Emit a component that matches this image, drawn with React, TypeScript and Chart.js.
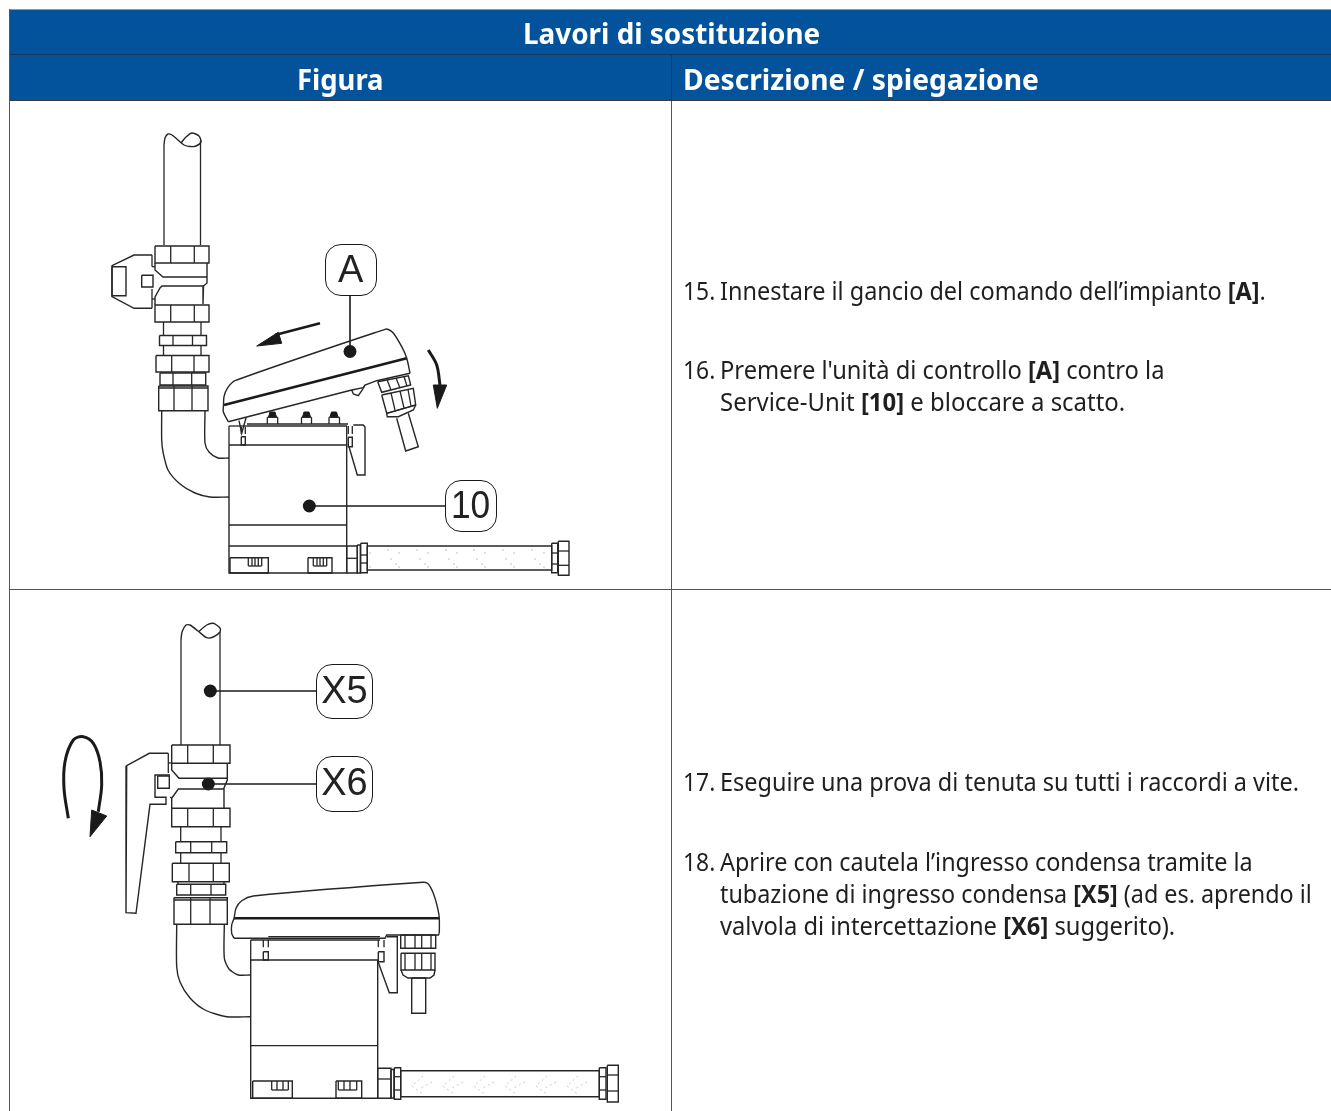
import React, { useEffect, useLayoutEffect, useRef } from "react";
import { Chart, registerables } from "chart.js";
Chart.register(...registerables);

type P = [number, number];
type R = [number, number, number, number];

// ---------- Figure 1 drawing data (values on a 0..1331 / 0..1111 plane) ----------
const f1Rects: R[] = [
  [155, 246, 209, 263], [155, 305, 209, 322], [159.5, 335.5, 206.5, 345.5], [156, 355.5, 209, 372],
  [160, 373, 205.7, 385], [158.7, 386, 208, 410.7], [112, 266.7, 126, 295.7], [141.7, 275.3, 153, 287],
  [229, 445, 346.7, 573], [230, 557.7, 268.3, 573], [308, 557.7, 332, 573], [241.3, 436.7, 245.3, 445],
  [348.3, 437.3, 352.3, 446.7], [346.7, 546, 357.3, 573], [357.3, 545, 360.3, 573], [360.7, 543.3, 367.3, 572.7],
  [367.3, 546, 551.7, 570], [551.7, 543.3, 557.7, 572.7], [558.3, 541.3, 569, 575.3],
];
const f1Segs: R[] = [
  [170.7, 246, 170.7, 263], [194.3, 246, 194.3, 263], [170.7, 305, 170.7, 322], [194.3, 305, 194.3, 322],
  [163.5, 322, 163.5, 335.5], [201, 322, 201, 335.5], [173, 335.5, 173, 345.5], [192.5, 335.5, 192.5, 345.5],
  [163.5, 345.5, 163.5, 355.5], [201, 345.5, 201, 355.5], [171.7, 355.5, 171.7, 372], [194, 355.5, 194, 372],
  [173, 373, 173, 385], [191.7, 373, 191.7, 385], [174, 386, 174, 410.7], [192, 386, 192, 410.7],
  [158.7, 388, 208, 388], [164, 245, 164, 145], [200.5, 245, 200.5, 140],
  [152, 255, 152, 266.7], [152, 289, 152, 308.3], [152, 266.7, 155, 266.7], [152, 299, 155, 299],
  [229, 426, 229, 445], [229, 426, 247, 426], [247, 424, 348, 424], [247, 426, 347, 426], [346.7, 426, 346.7, 445],
  [229, 525, 346.7, 525], [229, 546, 346.7, 546], [241.3, 426.7, 241.3, 434], [245.3, 426.7, 245.3, 434],
  [348.3, 426, 348.3, 434], [352.3, 426, 352.3, 434], [346.7, 558.3, 357.3, 558.3],
  [248.3, 557.7, 248.3, 566], [261.7, 557.7, 261.7, 566], [248.3, 566, 261.7, 566], [252, 557.7, 252, 566], [255, 557.7, 255, 566], [258.3, 557.7, 258.3, 566],
  [313.3, 557.7, 313.3, 566], [326.7, 557.7, 326.7, 566], [313.3, 566, 326.7, 566], [317, 557.7, 317, 566], [320, 557.7, 320, 566], [323.3, 557.7, 323.3, 566],
  [360.7, 555, 367.3, 555], [360.7, 563, 367.3, 563], [551.7, 553, 557.7, 553], [551.7, 564, 557.7, 564],
  [558.3, 551, 569, 551], [558.3, 565.3, 569, 565.3],
  [267.3, 417.3, 267.3, 424], [277.7, 417.3, 277.7, 424], [267.3, 417.3, 277.7, 417.3],
  [301.5, 417.3, 301.5, 424], [311.5, 417.3, 311.5, 424], [301.5, 417.3, 311.5, 417.3],
  [329, 417.3, 329, 424], [339.5, 417.3, 339.5, 424], [329, 417.3, 339.5, 417.3],
  [387, 379.5, 391, 390], [396, 378, 400, 388], [404, 376.5, 407, 386],
  [391, 393, 395, 410], [400, 391, 404, 408], [408, 389.5, 411, 406], [386.7, 413.3, 415.7, 405],
];
const f1Paths: P[][] = [
  [[207, 263], [207, 283], [203.5, 286], [203, 304]],
  [[155, 263], [155, 270], [163, 277], [207, 277]],
  [[155, 305], [155, 297], [160, 288], [162, 286], [204, 286]],
  [[152, 255], [134, 255], [112, 265.7], [112, 296.7], [134, 308.3], [152, 308.3]],
  [[228.3, 421.7], [351.7, 390], [363.3, 387.7], [365, 385], [376.7, 380.7], [410, 373.3]],
  [[351.7, 390], [353.3, 394], [358.3, 395.7], [362.3, 390], [365, 385]],
  [[239, 420.7], [241.7, 433.3], [246, 418]],
  [[353.3, 425], [363.3, 425], [365, 427], [365, 475], [357.3, 475], [349, 446.7]],
  [[377.7, 381.7], [408.3, 375.7], [410.7, 385], [381.7, 392.3], [377.7, 381.7]],
  [[381.7, 395], [413.3, 388.3], [415.7, 405], [386.7, 413.3], [381.7, 395]],
  [[386.7, 413.3], [387.3, 416.7], [398.3, 416.7], [413.3, 410], [415.7, 405]],
  [[396.7, 418.3], [405.7, 451], [418.3, 446.7], [408.3, 413.3]],
];
const f1Curves: P[][] = [
  [[164, 145], [165, 138], [168, 134], [172, 135], [178, 140], [184, 145], [190, 146.5], [196, 146], [201, 142], [199, 136], [192, 133], [186, 137], [181, 143]],
  [[161.7, 411], [161.7, 440], [163, 452], [168, 470], [180, 484], [195, 493], [210, 497], [229, 497]],
  [[205, 411], [205, 443], [209, 452], [218, 458], [229, 458]],
  [[228.3, 421.7], [223.3, 411.7], [223.5, 405], [224, 396.7], [227.3, 388.3], [235, 380.7], [385, 329.3], [388.3, 329.5], [393.3, 333], [401.7, 346.7], [406.7, 358], [410, 373.3]],
];
const f1Heavy: R[] = [[224, 405, 406.7, 358.3], [320, 323.3, 275, 335]];
const f1HeavyCurves: P[][] = [[[428.3, 350], [436.7, 365], [440, 385]]];
const f1Fills: P[][] = [
  [[256.7, 346], [278.3, 332.3], [281.7, 343.3], [256.7, 346]],
  [[433.3, 385], [446.7, 385], [437.3, 408.3], [433.3, 385]],
  [[268.5, 417], [270, 412], [275, 412], [276.5, 417], [268.5, 417]],
  [[302.5, 417], [304, 412], [309, 412], [310.5, 417], [302.5, 417]],
  [[330, 417], [331.5, 412], [336.5, 412], [338, 417], [330, 417]],
];
const f1Leaders: R[] = [[350, 296, 350, 351], [309.3, 506, 445, 506]];
const f1Dots: P[] = [[350, 351.5], [309.3, 506]];
const f1Specks: P[] = [
  [388, 550], [399, 553], [417, 550], [428, 553], [446, 550], [457, 553], [474, 550], [485, 553], [503, 550], [514, 553], [532, 550], [544, 553],
  [370, 553], [391, 559], [396, 564], [420, 559], [425, 564], [449, 559], [454, 564], [477, 559], [482, 564], [506, 559], [511, 564], [535, 559], [540, 564],
  [370, 567], [399, 567], [428, 567], [457, 567], [485, 567], [514, 567], [544, 567],
];

// ---------- Figure 2 drawing data ----------
const f2Rects: R[] = [
  [171.7, 745, 230, 763.3], [171.7, 808.3, 230, 826.7], [175.7, 841.7, 226.7, 852.7], [172.3, 863.3, 229.3, 881.7],
  [176.7, 884.3, 225.7, 895], [174, 897.7, 227.3, 924.3], [157.7, 776, 169.3, 788.3],
  [250.7, 960, 377.7, 1098.3], [252.7, 1081, 292.3, 1098.3], [336, 1081, 361.7, 1098.3],
  [263.3, 951.7, 268.3, 960], [378.3, 951.7, 384, 961.7], [377.7, 1068.3, 391, 1098.3], [391, 1069.5, 394, 1098],
  [394.3, 1067.7, 400.7, 1099.3], [400.7, 1070.7, 599.3, 1096.7], [599.3, 1067.7, 606, 1099.3], [607.3, 1065.3, 618.3, 1102],
  [400.7, 935, 435.7, 948.3], [401, 953.3, 435, 970], [411.7, 978, 425.7, 1013.3],
];
const f2Segs: R[] = [
  [181, 745, 181, 640], [220, 745, 220, 632], [187.7, 745, 187.7, 763.3], [213.3, 745, 213.3, 763.3],
  [187.7, 808.3, 187.7, 826.7], [213.3, 808.3, 213.3, 826.7], [180.7, 826.7, 180.7, 841.7], [221, 826.7, 221, 841.7],
  [190.7, 841.7, 190.7, 852.7], [211.7, 841.7, 211.7, 852.7], [180.7, 852.7, 180.7, 863.3], [221, 852.7, 221, 863.3],
  [189, 863.3, 189, 881.7], [213.3, 863.3, 213.3, 881.7], [178, 881.7, 178, 884.3], [224, 881.7, 224, 884.3],
  [190.7, 884.3, 190.7, 895], [211, 884.3, 211, 895], [190.7, 897.7, 190.7, 924.3], [210, 897.7, 210, 924.3],
  [174, 900, 227.3, 900], [168.3, 753.3, 168.3, 773], [168.3, 763, 171.7, 763], [170, 797.3, 171.7, 797.3],
  [250.7, 940, 250.7, 960], [268.3, 936.7, 380, 936.7], [250.7, 940, 380, 940], [263.3, 940, 263.3, 947.3], [268.3, 940, 268.3, 947.3],
  [378.3, 940, 378.3, 947.3], [384, 940, 384, 947.3], [250.7, 1045.7, 377.7, 1045.7], [377.7, 1079, 391, 1079],
  [271.7, 1081, 271.7, 1090], [288.3, 1081, 288.3, 1090], [271.7, 1090, 288.3, 1090], [277, 1081, 277, 1090], [283, 1081, 283, 1090],
  [338.3, 1081, 338.3, 1090], [356.7, 1081, 356.7, 1090], [338.3, 1090, 356.7, 1090], [344, 1081, 344, 1090], [350, 1081, 350, 1090],
  [394.3, 1076.7, 400.7, 1076.7], [394.3, 1090, 400.7, 1090], [599.3, 1076.7, 606, 1076.7], [599.3, 1090, 606, 1090],
  [607.3, 1075, 618.3, 1075], [607.3, 1091, 618.3, 1091],
  [405, 935, 405, 948.3], [415, 935, 415, 948.3], [421.7, 935, 421.7, 948.3], [431, 935, 431, 948.3],
  [405, 953.3, 405, 970], [415, 953.3, 415, 970], [421.7, 953.3, 421.7, 970], [431, 953.3, 431, 970],
];
const f2Paths: P[][] = [
  [[227.3, 763.3], [227.3, 780], [224, 788], [224, 808.3]],
  [[171.7, 763.3], [171.7, 770], [179, 778.3], [227.3, 778.3]],
  [[224, 789], [178.3, 789], [171.7, 798.3], [171.7, 808.3]],
  [[168.3, 753.3], [149.3, 753.3], [126.7, 765.7], [126, 912.7], [136, 913.3], [150, 804.3], [166, 804.3], [166, 797.3], [155, 797.3], [155, 775], [170, 775]],
  [[234, 938.3], [385, 938.3], [386.7, 935], [438.3, 935], [439.3, 933.3]],
  [[386.7, 936.7], [397.3, 936.7], [397.3, 992.7], [389.3, 992.7], [377.7, 960.7]],
  [[401, 970], [403, 975], [408, 978], [430, 978], [434, 975], [435, 970]],
];
const f2Curves: P[][] = [
  [[181, 640], [182, 632], [186, 625], [190, 625], [198, 631], [206.7, 637.7], [213.3, 637], [220, 632], [220, 628], [213.3, 623.3], [206.7, 625], [198.3, 632]],
  [[176.7, 925], [176.7, 966.7], [180, 982], [190, 998], [205, 1010], [226.7, 1016.7], [250, 1016.7]],
  [[224.3, 925], [224.3, 958], [229, 969], [238.3, 975], [250, 975]],
  [[234, 938.3], [231.7, 933.3], [231.7, 925], [234, 918.3], [236, 908.3], [241.7, 900.7], [253.3, 896], [423.3, 882.3], [428.3, 884], [433.3, 893.3], [437.7, 908.3], [439.3, 918.3], [439.3, 933.3]],
];
const f2Heavy: R[] = [[234, 918.3, 439.3, 918.3]];
const f2HeavyCurves: P[][] = [
  [[68.3, 818.3], [64, 788.3], [65, 761.7], [73.3, 740], [83.3, 736.7], [93.3, 743.3], [100, 761.7], [101.7, 785], [98.3, 811.7]],
];
const f2Fills: P[][] = [[[90, 836.7], [91.7, 810], [106.7, 816], [90, 836.7]]];
const f2Leaders: R[] = [[210.3, 691, 316.7, 691], [208.3, 784, 316.7, 784]];
const f2Dots: P[] = [[210.3, 691], [208.3, 784]];
const f2Chevrons: P[][] = [
  [[423, 1076], [412, 1086], [424, 1095]], [[432, 1082], [421, 1088]],
  [[454, 1076], [443, 1086], [455, 1095]], [[463, 1082], [452, 1088]],
  [[485, 1076], [474, 1086], [486, 1095]], [[494, 1082], [483, 1088]],
  [[516, 1076], [505, 1086], [517, 1095]], [[525, 1082], [514, 1088]],
  [[547, 1076], [536, 1086], [548, 1095]], [[556, 1082], [545, 1088]],
  [[578, 1076], [567, 1086], [579, 1095]], [[587, 1082], [576, 1088]],
];

// ---------- Text ----------
const tableTitle = "Lavori di sostituzione";
const columnHeads = ["Figura", "Descrizione / spiegazione"];
const stepNumbers = ["15.", "16.", "17.", "18."];
type Piece = [string, boolean];
const step15: Piece[] = [["Innestare il gancio del comando dell’impianto ", false], ["[A]", true], [".", false]];
const step16a: Piece[] = [["Premere l'unità di controllo ", false], ["[A]", true], [" contro la", false]];
const step16b: Piece[] = [["Service-Unit ", false], ["[10]", true], [" e bloccare a scatto.", false]];
const step17: Piece[] = [["Eseguire una prova di tenuta su tutti i raccordi a vite.", false]];
const step18a: Piece[] = [["Aprire con cautela l’ingresso condensa tramite la", false]];
const step18b: Piece[] = [["tubazione di ingresso condensa ", false], ["[X5]", true], [" (ad es. aprendo il", false]];
const step18c: Piece[] = [["valvola di intercettazione ", false], ["[X6]", true], [" suggerito).", false]];
const calloutLabels = ["A", "10", "X5", "X6"];

const BODY_FONT = "'Noto Sans', sans-serif";
const INK = "#262626";

function Fit({ left, cy, width, size, bold, color, font, children }: any) {
  const ref = useRef<HTMLSpanElement>(null);
  useLayoutEffect(() => {
    const el = ref.current;
    if (el) el.style.transform = `scaleX(${width / el.offsetWidth})`;
  }, [width]);
  return (
    <span
      ref={ref}
      style={{
        position: "absolute", left, top: cy - size * 0.75, lineHeight: `${size * 1.5}px`, fontSize: size,
        fontFamily: font ?? BODY_FONT, fontWeight: bold ? 700 : 400, color: color ?? "#1f1f1f",
        whiteSpace: "pre", transformOrigin: "left center",
      }}
    >
      {children}
    </span>
  );
}

function Pieces({ items }: { items: Piece[] }) {
  return <>{items.map(([t, b], i) => <span key={i} style={{ fontWeight: b ? 700 : 400 }}>{t}</span>)}</>;
}

function Callout({ x0, y0, x1, y1, label, tw }: any) {
  return (
    <>
      <div style={{ position: "absolute", left: x0, top: y0, width: x1 - x0, height: y1 - y0, boxSizing: "border-box", border: `1.6px solid #1a1a1a`, borderRadius: 16, background: "#fff" }} />
      <Fit left={(x0 + x1) / 2 - tw / 2} cy={(y0 + y1) / 2 - 1} width={tw} size={38} font="'Liberation Sans', Arial, sans-serif" color="#222">{label}</Fit>
    </>
  );
}

export default function App() {
  const canvasRef = useRef<HTMLCanvasElement>(null);
  useEffect(() => {
    const toPts = (p: P[]) => p.map(([x, y]) => ({ x, y }));
    const base = { showLine: true, pointRadius: 0, fill: false, borderColor: INK, parsing: true };
    const rect = ([a, b, c, d]: R): P[] => [[a, b], [c, b], [c, d], [a, d], [a, b]];
    const seg = ([a, b, c, d]: R): P[] => [[a, b], [c, d]];
    const ds: any[] = [];
    const add = (pts: P[], extra: any) => ds.push({ ...base, data: toPts(pts), ...extra });

    for (const r of [...f1Rects, ...f2Rects]) add(rect(r), { borderWidth: 1.4 });
    for (const s of [...f1Segs, ...f2Segs]) add(seg(s), { borderWidth: 1.3 });
    for (const p of [...f1Paths, ...f2Paths]) add(p, { borderWidth: 1.4 });
    for (const c of [...f1Curves, ...f2Curves]) add(c, { borderWidth: 1.4, tension: 0.25 });
    for (const h of [...f1Heavy, ...f2Heavy]) add(seg(h), { borderWidth: 2.6, borderColor: "#1a1a1a" });
    for (const h of [...f1HeavyCurves, ...f2HeavyCurves]) add(h, { borderWidth: 3, borderColor: "#1a1a1a", tension: 0.35 });
    for (const l of [...f1Leaders, ...f2Leaders]) add(seg(l), { borderWidth: 1.6, borderColor: "#1a1a1a" });
    for (const f of [...f1Fills, ...f2Fills]) add(f, { borderWidth: 1, borderColor: "#1a1a1a", backgroundColor: "#1a1a1a", fill: "shape" });
    for (const c of f2Chevrons) add(c, { borderWidth: 0.8, borderColor: "#bdbdbd", borderDash: [2, 3] });
    ds.push({ data: toPts([...f1Dots, ...f2Dots]), showLine: false, pointRadius: 6.5, pointBackgroundColor: "#1a1a1a", pointBorderWidth: 0 });
    ds.push({ data: toPts(f1Specks), showLine: false, pointRadius: 0.7, pointBackgroundColor: "#a8a8a8", pointBorderWidth: 0 });

    const chart = new Chart(canvasRef.current!, {
      type: "scatter",
      data: { datasets: ds },
      options: {
        animation: false,
        responsive: false,
        devicePixelRatio: 1,
        layout: { padding: 0, autoPadding: false },
        plugins: { legend: { display: false }, tooltip: { enabled: false }, title: { display: false } },
        scales: {
          x: { type: "linear", min: 0, max: 1331, display: false },
          y: { type: "linear", min: 0, max: 1111, reverse: true, display: false },
        },
      },
    });
    return () => chart.destroy();
  }, []);

  const blue = "#03539c";
  const rule = "#3a3a3a";
  const box = (l: number, t: number, w: number, h: number, bg: string) => (
    <div style={{ position: "absolute", left: l, top: t, width: w, height: h, background: bg }} />
  );

  return (
    <div style={{ position: "fixed", left: 0, top: 0, width: 1331, height: 1111, overflow: "hidden", background: "#fff" }}>
      {box(9, 9, 1322, 92, blue)}
      {box(9, 9, 1322, 1, "#8a9ab0")}
      {box(9, 54, 1322, 1, "#1f3550")}
      {box(9, 100, 1322, 1, rule)}
      {box(9, 589, 1322, 1, "#555")}
      {box(9, 9, 1, 1102, "#555")}
      {box(671, 55, 1, 46, "#1f3550")}
      {box(671, 101, 1, 1010, "#555")}

      <canvas ref={canvasRef} width={1331} height={1111} style={{ position: "absolute", left: 0, top: 0, width: 1331, height: 1111 }} />

      <Fit left={523} cy={33} width={297} size={29} bold color="#fff">{tableTitle}</Fit>
      <Fit left={297} cy={79} width={87} size={29} bold color="#fff">{columnHeads[0]}</Fit>
      <Fit left={683} cy={79} width={356} size={29} bold color="#fff">{columnHeads[1]}</Fit>

      <Fit left={683} cy={291} width={32} size={25}>{stepNumbers[0]}</Fit>
      <Fit left={720} cy={291} width={546} size={25}><Pieces items={step15} /></Fit>
      <Fit left={683} cy={370} width={32} size={25}>{stepNumbers[1]}</Fit>
      <Fit left={720} cy={370} width={444} size={25}><Pieces items={step16a} /></Fit>
      <Fit left={720} cy={402} width={405} size={25}><Pieces items={step16b} /></Fit>
      <Fit left={683} cy={782} width={32} size={25}>{stepNumbers[2]}</Fit>
      <Fit left={720} cy={782} width={579} size={25}><Pieces items={step17} /></Fit>
      <Fit left={683} cy={862} width={32} size={25}>{stepNumbers[3]}</Fit>
      <Fit left={720} cy={862} width={533} size={25}><Pieces items={step18a} /></Fit>
      <Fit left={720} cy={894} width={592} size={25}><Pieces items={step18b} /></Fit>
      <Fit left={720} cy={926} width={455} size={25}><Pieces items={step18c} /></Fit>

      <Callout x0={324.5} y0={244} x1={376.5} y1={296} label={calloutLabels[0]} tw={25} />
      <Callout x0={444.5} y0={480} x1={496.5} y1={532} label={calloutLabels[1]} tw={39} />
      <Callout x0={316} y0={663.5} x1={372.5} y1={719} label={calloutLabels[2]} tw={46} />
      <Callout x0={316} y0={756} x1={372.5} y1={811.5} label={calloutLabels[3]} tw={46} />
    </div>
  );
}
